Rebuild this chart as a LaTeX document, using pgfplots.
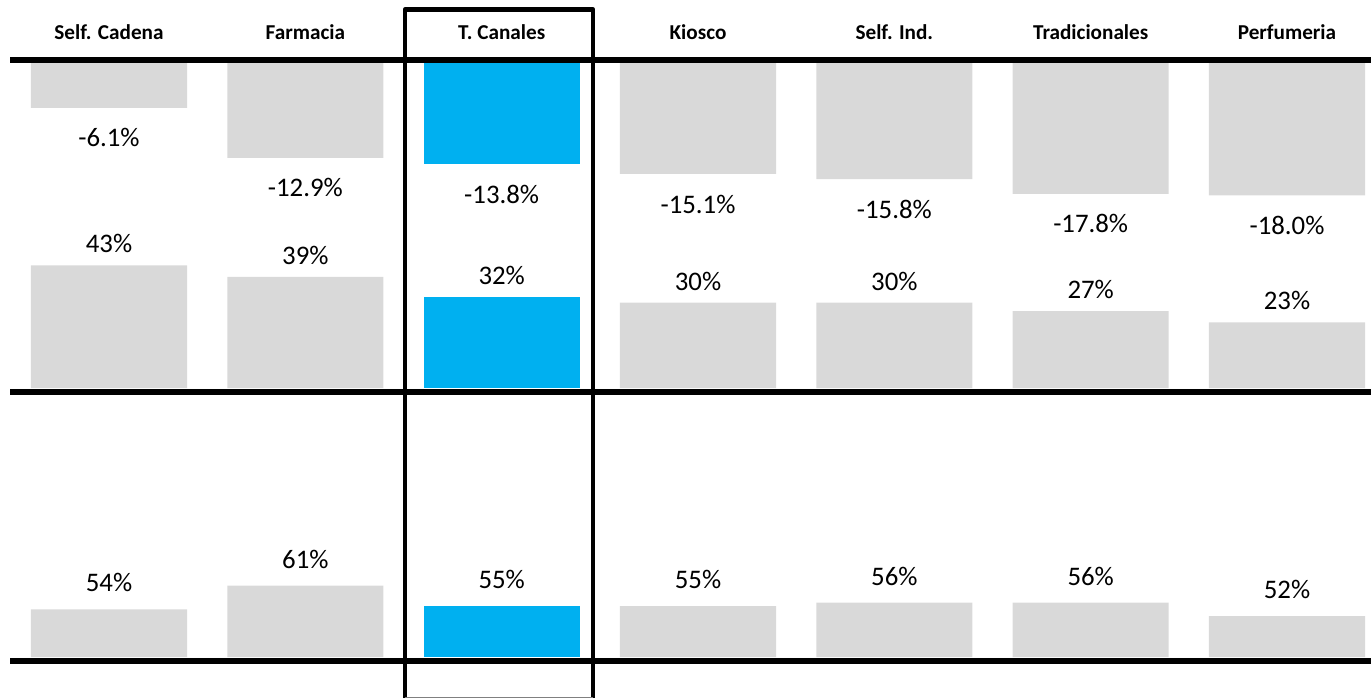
\documentclass[border=0pt]{standalone}
\usepackage{fontspec}
\setmainfont{Carlito}
\usepackage{pgfplots}
\pgfplotsset{compat=1.18}
\definecolor{bargray}{HTML}{D9D9D9}
\definecolor{barblue}{HTML}{00B0F0}
\pgfplotsset{
  panel/.style={
    scale only axis, width=680.5pt, xmin=-0.5043, xmax=6.4277,
    axis line style={draw=none}, tick style={draw=none},
    ytick=\empty, xtick=\empty, clip=false, anchor=south west,
    ybar, bar width=0.795,
    nodes near coords, point meta=explicit symbolic,
    every node near coord/.append style={font=\fontsize{13.4}{16}\selectfont, anchor=center, inner sep=0pt, text=black},
  },
  graybar/.style={fill=bargray, draw=none, bar shift=0pt},
  bluebar/.style={fill=barblue, draw=none, bar shift=0pt},
}
\begin{document}
\begin{tikzpicture}
\useasboundingbox (0,0) rectangle (685.5pt,349pt);
% top panel: variation
\begin{axis}[panel, at={(5pt,244pt)}, height=73.5pt, ymin=-20, ymax=0,
  xtick={0,1,2,3,4,5,6},
  xticklabels={Self. Cadena, Farmacia, T. Canales, Kiosco, Self. Ind., Tradicionales, Perfumeria},
  xticklabel pos=upper,
  xticklabel style={font=\bfseries\fontsize{10.6}{12}\selectfont, anchor=base, yshift=7.5pt},
  nodes near coords style={yshift=-15pt}]
\addplot[graybar] coordinates {(0,-6.1) [-6.1\%] (1,-12.9) [-12.9\%] (3,-15.1) [-15.1\%] (4,-15.8) [-15.8\%] (5,-17.8) [-17.8\%] (6,-18.0) [-18.0\%]};
\addplot[bluebar] coordinates {(2,-13.8) [-13.8\%]};
\end{axis}
% middle panel
\begin{axis}[panel, at={(5pt,155pt)}, height=71.25pt, ymin=0, ymax=50,
  nodes near coords style={yshift=10.75pt}]
\addplot[graybar] coordinates {(0,43) [43\%] (1,39) [39\%] (3,30) [30\%] (4,30) [30\%] (5,27) [27\%] (6,23) [23\%]};
\addplot[bluebar] coordinates {(2,32) [32\%]};
\end{axis}
% bottom panel
\begin{axis}[panel, at={(5pt,20.5pt)}, height=51pt, ymin=40, ymax=70,
  nodes near coords style={yshift=13.25pt}]
\addplot[graybar] coordinates {(0,54) [54\%] (1,61) [61\%] (3,55) [55\%] (4,56) [56\%] (5,56) [56\%] (6,52) [52\%]};
\addplot[bluebar] coordinates {(2,55) [55\%]};
\end{axis}
% rules
\draw[line width=3pt] (5pt,319pt) -- (685.5pt,319pt);
\draw[line width=3pt] (5pt,153.25pt) -- (685.5pt,153.25pt);
\draw[line width=3pt] (5pt,18.75pt) -- (685.5pt,18.75pt);
% highlight box
\draw[line width=2.35pt, line join=round] (202.5pt,0pt) -- (202.5pt,344.15pt) -- (296.5pt,344.15pt) -- (296.5pt,0pt);
\draw[gray, line width=0.5pt] (202.5pt,0.25pt) -- (296.5pt,0.25pt);
\end{tikzpicture}
\end{document}
